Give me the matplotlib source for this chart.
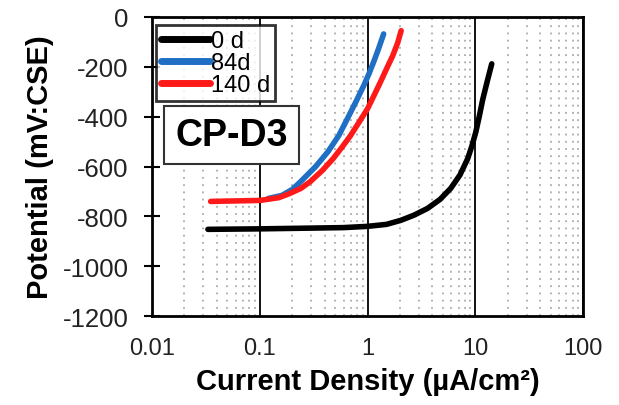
import numpy as np
import matplotlib
matplotlib.use('Agg')
from matplotlib import pyplot as plt
from matplotlib.ticker import FixedLocator, NullFormatter

plt.rcParams['font.family'] = ['Liberation Sans', 'DejaVu Sans']
plt.rcParams['axes.unicode_minus'] = False

# polarization curves (current in uA/cm2, potential in mV)
i_0d = [0.033, 0.1, 0.3, 0.6, 1.0, 1.5, 2.03, 2.7, 3.6, 4.7, 5.9, 7.2, 8.5, 9.3,
        10.1, 10.9, 11.7, 12.9, 14.2]
e_0d = [-852, -850, -847, -845, -840, -832, -816, -795, -768, -732, -688, -634,
        -568, -517, -462, -397, -332, -258, -188]

i_84d = [0.12, 0.16, 0.2, 0.24, 0.33, 0.43, 0.54, 0.65, 0.78, 0.92, 1.03, 1.14,
         1.27, 1.41]
e_84d = [-728, -716, -692, -660, -600, -540, -476, -408, -340, -276, -228, -180,
         -125, -68]

i_140d = [0.035, 0.1, 0.15, 0.19, 0.24, 0.295, 0.38, 0.48, 0.58, 0.695, 0.84, 1.0,
          1.15, 1.32, 1.5, 1.71, 1.9, 2.05]
e_140d = [-740, -736, -725, -708, -688, -660, -616, -568, -522, -476, -420, -368,
          -314, -260, -208, -156, -105, -55]

x_ticks = [0.01, 0.1, 1, 10, 100]
x_tick_labels = ['0.01', '0.1', '1', '10', '100']
y_ticks = [0, -200, -400, -600, -800, -1000, -1200]

fig = plt.figure(figsize=(6.19, 4.06), dpi=100)
ax = fig.add_axes([0.2456, 0.219, 0.6964, 0.7367])

ax.plot(i_0d, e_0d, color='black', lw=4, label='0 d', zorder=3, solid_capstyle='round')
ax.plot(i_84d, e_84d, color='#1f6fc5', lw=4, label='84d', zorder=3, solid_capstyle='round')
ax.plot(i_140d, e_140d, color='#ff1a1a', lw=4, label='140 d', zorder=4, solid_capstyle='round')

ax.set_xscale('log')
ax.set_xlim(0.01, 100)
ax.set_ylim(-1200, 0)

ax.xaxis.set_major_locator(FixedLocator(x_ticks))
ax.set_xticklabels(x_tick_labels)
minors = [m * d for d in [0.01, 0.1, 1, 10] for m in range(2, 10)]
ax.xaxis.set_minor_locator(FixedLocator(minors))
ax.xaxis.set_minor_formatter(NullFormatter())
ax.set_yticks(y_ticks)

ax.grid(True, which='major', axis='x', color='black', lw=1.3)
ax.grid(True, which='minor', axis='x', color='#aaaaaa', lw=1.3, linestyle=(0, (1, 3)))
ax.tick_params(axis='x', which='both', length=0, pad=15, labelsize=17, labelcolor='#222222')
ax.tick_params(axis='y', direction='inout', length=12, width=1.5, labelsize=18.5,
               pad=11, labelcolor='#222222')

for s in ax.spines.values():
    s.set_linewidth(2)
    s.set_color('black')

ax.set_xlabel('Current Density (µA/cm²)', fontsize=21, fontweight='bold', labelpad=6)
ax.set_ylabel('Potential (mV:CSE)', fontsize=21, fontweight='bold', labelpad=6)

leg = ax.legend(loc='upper left', bbox_to_anchor=(0.009, 0.973), fontsize=17,
                frameon=True, fancybox=False, handlelength=2.1, handletextpad=0.02,
                labelspacing=0.0, borderpad=0.2, borderaxespad=0.0)
leg.get_frame().set_edgecolor('black')
leg.get_frame().set_linewidth(2)
for h in leg.get_lines():
    h.set_linewidth(5)

ax.text(0.055, 0.605, 'CP-D3', transform=ax.transAxes, fontsize=27, fontweight='bold',
        va='center', ha='left',
        bbox=dict(boxstyle='square,pad=0.3', facecolor='white', edgecolor='#333333', lw=1.5))

plt.savefig('out.png', dpi=100)
